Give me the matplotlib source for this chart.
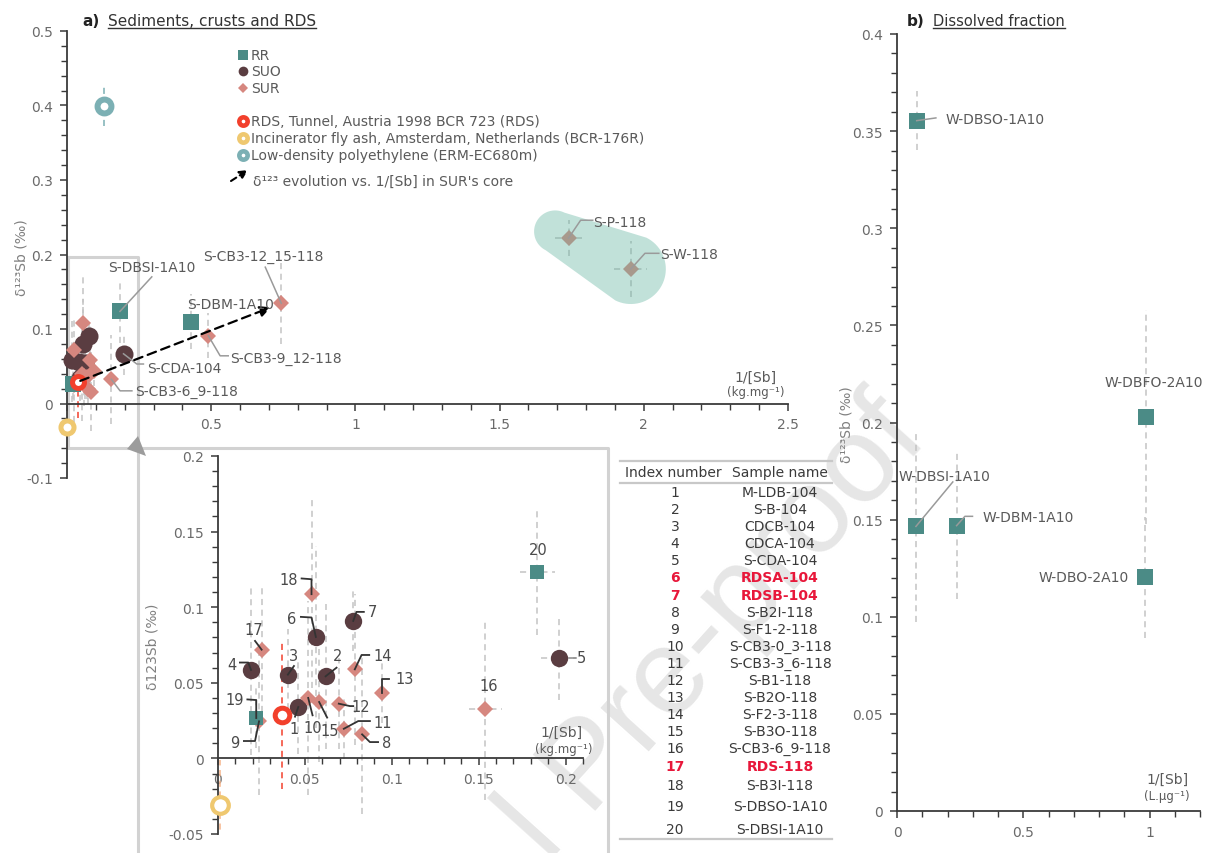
import numpy as np
import matplotlib.pyplot as plt
from matplotlib.lines import Line2D
from matplotlib.patches import Polygon
from matplotlib.ticker import MultipleLocator, FuncFormatter

plt.rcParams["font.family"] = ["DejaVu Sans"]

# ---------------------------------------------------------------- data
# samples of the zoomed inset (index number -> sample name)
index_no = list(range(1, 21))
sample_names = ["M-LDB-104", "S-B-104", "CDCB-104", "CDCA-104", "S-CDA-104",
                "RDSA-104", "RDSB-104", "S-B2I-118", "S-F1-2-118", "S-CB3-0_3-118",
                "S-CB3-3_6-118", "S-B1-118", "S-B2O-118", "S-F2-3-118", "S-B3O-118",
                "S-CB3-6_9-118", "RDS-118", "S-B3I-118", "S-DBSO-1A10", "S-DBSI-1A10"]
sample_group = ["SUO"] * 7 + ["SUR"] * 11 + ["RR"] * 2
inv_sb = [0.0462, 0.0619, 0.0402, 0.0190, 0.1960, 0.0563, 0.0778, 0.0829, 0.0236, 0.0519,
          0.0724, 0.0695, 0.0944, 0.0787, 0.0582, 0.1538, 0.0251, 0.0538, 0.0220, 0.1837]
d123 = [0.0340, 0.0543, 0.0554, 0.0585, 0.0667, 0.0803, 0.0909, 0.0159, 0.0245, 0.0400,
        0.0196, 0.0362, 0.0435, 0.0589, 0.0373, 0.0325, 0.0719, 0.1086, 0.0267, 0.1236]
d123_err = [0.031, 0.048, 0.030, 0.056, 0.028, 0.060, 0.020, 0.053, 0.049, 0.064,
            0.020, 0.030, 0.020, 0.050, 0.040, 0.060, 0.041, 0.062, 0.020, 0.042]
inv_sb_err = [0, 0, 0, 0, 0.010, 0, 0, 0, 0, 0,
              0, 0, 0, 0, 0, 0.0095, 0, 0, 0, 0.010]

# samples outside the inset (main panel only)
extra_names = ["S-DBM-1A10", "S-CB3-9_12-118", "S-CB3-12_15-118", "S-P-118", "S-W-118"]
extra_group = ["RR", "SUR", "SUR", "SUR", "SUR"]
extra_x = [0.430, 0.490, 0.743, 1.739, 1.955]
extra_y = [0.110, 0.091, 0.1345, 0.222, 0.1805]
extra_yerr = [0.037, 0.030, 0.055, 0.024, 0.038]
extra_xerr = [0, 0, 0, 0.048, 0.057]
blob_members = ["S-P-118", "S-W-118"]

# reference materials
ref_names = ["RDS, Tunnel, Austria 1998 BCR 723 (RDS)",
             "Incinerator fly ash, Amsterdam, Netherlands (BCR-176R)",
             "Low-density polyethylene (ERM-EC680m)"]
ref_x = [0.037, 0.001, 0.130]
ref_y = [0.029, -0.031, 0.400]
ref_yerr = [0.049, 0.030, 0.028]

# dissolved fraction
diss_names = ["W-DBSO-1A10", "W-DBSI-1A10", "W-DBM-1A10", "W-DBO-2A10", "W-DBFO-2A10"]
diss_x = [0.078, 0.075, 0.236, 0.983, 0.987]
diss_y = [0.3554, 0.1465, 0.1469, 0.1203, 0.2027]
diss_yerr = [0.015, 0.049, 0.038, 0.031, 0.055]

# ---------------------------------------------------------------- style
col = {"RR": "#4b8b86", "SUO": "#5a3d41", "SUR": "#d6877f"}
mk = {"RR": "s", "SUO": "o", "SUR": "D"}
ref_col = ["#f2402c", "#efc870", "#7cb0b4"]
ref_errcol = ["#f2402c", "#f5b48a", "#7cb0b4"]
txt_grey = "#5a5a5a"
err_grey = "#c4c4c4"

W, H = 1206, 854
fig = plt.figure(figsize=(W / 100, H / 100), dpi=100)


def fx(px):
    return px / W


def fy(py):
    return 1 - py / H


def fmt(v, pos):
    return "0" if abs(v) < 1e-9 else f"{round(v, 3):g}"


def style(ax, xlim, ylim, xmaj, xmin, ymaj, ymin):
    ax.set_facecolor("none")
    ax.set_xlim(*xlim)
    ax.set_ylim(*ylim)
    for s in ("top", "right"):
        ax.spines[s].set_visible(False)
    ax.spines["bottom"].set_position(("data", 0))
    for s in ("left", "bottom"):
        ax.spines[s].set_color("#3a3a3a")
        ax.spines[s].set_linewidth(1.3)
    ax.xaxis.set_major_locator(MultipleLocator(xmaj))
    ax.xaxis.set_minor_locator(MultipleLocator(xmin))
    ax.yaxis.set_major_locator(MultipleLocator(ymaj))
    ax.yaxis.set_minor_locator(MultipleLocator(ymin))
    ax.xaxis.set_major_formatter(FuncFormatter(fmt))
    ax.yaxis.set_major_formatter(FuncFormatter(fmt))
    ax.tick_params(which="both", direction="out", color="#3a3a3a", labelcolor="#6a6a6a",
                   labelsize=10)
    ax.tick_params(which="major", length=5, width=1.1, pad=5)
    ax.tick_params(which="minor", length=4, width=1.0)


def err_bars(ax, x, y, xe, ye, color=err_grey, z=1):
    eb = ax.errorbar(x, y, xerr=xe, yerr=ye, fmt="none", ecolor=color, elinewidth=1.1, zorder=z)
    for lc in eb[2]:
        lc.set_linestyle((0, (4, 3)))


def points(ax, xs, ys, groups, sizes, z=3):
    for g in ("SUO", "SUR", "RR"):
        sel = [i for i, gg in enumerate(groups) if gg == g]
        ax.plot([xs[i] for i in sel], [ys[i] for i in sel], ls="none", marker=mk[g],
                ms=sizes[g], color=col[g], mew=0, zorder=z, clip_on=False)


def leaders(ax, anchor, path, color, lw=1.1, z=5):
    xs = [anchor[0]] + [p[0] for p in path]
    ys = [anchor[1]] + [p[1] for p in path]
    ax.plot(xs, ys, color=color, lw=lw, zorder=z, clip_on=False)


# ---------------------------------------------------------------- axes
ax_a = fig.add_axes([fx(67), fy(479), (788 - 67) / W, (479 - 32) / H])
ax_in = fig.add_axes([fx(218), fy(835), (583 - 218) / W, (835 - 457) / H])
ax_b = fig.add_axes([fx(897), fy(812), (1200 - 897) / W, (812 - 35) / H])

style(ax_a, (0, 2.5), (-0.1, 0.5), 0.5, 0.1, 0.1, 0.02)
style(ax_in, (0, 0.21), (-0.05, 0.2), 0.05, 0.01, 0.05, 0.01)
style(ax_b, (0, 1.2), (0, 0.4), 0.5, 0.1, 0.05, 0.01)

# ---------------------------------------------------------------- panel a (main)
all_x = inv_sb + extra_x
all_y = d123 + extra_y
all_g = sample_group + extra_group
pos = dict(zip(sample_names + extra_names, zip(all_x, all_y)))

err_bars(ax_a, all_x, all_y, inv_sb_err + extra_xerr, d123_err + extra_yerr)
for i in range(3):
    err_bars(ax_a, [ref_x[i]], [ref_y[i]], None, [ref_yerr[i]], color=ref_errcol[i], z=2)
points(ax_a, all_x, all_y, all_g, {"RR": 12, "SUO": 13, "SUR": 8.6})
ax_a.plot(ref_x[0], ref_y[0], "o", ms=8.6, mew=3.6, mec=ref_col[0], mfc="white", zorder=6, clip_on=False)
ax_a.plot(ref_x[1], ref_y[1], "o", ms=9.4, mew=3.6, mec=ref_col[1], mfc="white", zorder=6, clip_on=False)
ax_a.plot(ref_x[2], ref_y[2], "o", ms=10, mew=4.3, mec=ref_col[2], mfc="white", zorder=6, clip_on=False)

# shaded field around the two surface samples (rounded hull, in pixel space)
fig.canvas.draw()
P = ax_a.transData.transform([pos[n] for n in blob_members])
d = (P[1] - P[0]) / np.hypot(*(P[1] - P[0]))
c0, c1 = P[0] - 15 * d, P[1]
a_n = np.arctan2(d[0], -d[1])
t1 = np.linspace(a_n, a_n - np.pi, 40)
t2 = np.linspace(a_n - np.pi, a_n - 2 * np.pi, 40)
ring = np.vstack([c1 + 35 * np.c_[np.cos(t1), np.sin(t1)],
                  c0 + 21 * np.c_[np.cos(t2), np.sin(t2)]])
ax_a.add_patch(Polygon(ax_a.transData.inverted().transform(ring), closed=True,
                       fc="#64b5a1", ec="none", alpha=0.4, zorder=4))

# trend arrow in SUR core
ax_a.annotate("", xy=pos["S-CB3-12_15-118"], xytext=(ref_x[0], ref_y[0]),
              arrowprops=dict(arrowstyle="-|>", color="black", lw=1.6, ls=(0, (4, 2.5)),
                              mutation_scale=16, shrinkA=2, shrinkB=8), zorder=7)

main_labels = {
    "S-DBSI-1A10": ((0.294, 0.183), "center", [(0.294, 0.170)]),
    "S-DBM-1A10": ((0.566, 0.134), "center", []),
    "S-CB3-12_15-118": ((0.682, 0.1976), "center", [(0.6875, 0.183)]),
    "S-CB3-9_12-118": ((0.566, 0.061), "left", [(0.531, 0.064), (0.559, 0.064)]),
    "S-CDA-104": ((0.278, 0.0477), "left", [(0.242, 0.053), (0.265, 0.053)]),
    "S-CB3-6_9-118": ((0.236, 0.0172), "left", [(0.184, 0.017), (0.225, 0.017)]),
    "S-P-118": ((1.826, 0.244), "left", [(1.781, 0.246), (1.823, 0.246)]),
    "S-W-118": ((2.056, 0.200), "left", [(2.004, 0.2016), (2.052, 0.2016)]),
}
for name, (tp, ha, path) in main_labels.items():
    ax_a.text(tp[0], tp[1], name, ha=ha, va="center", fontsize=10, color=txt_grey, zorder=8)
    if path:
        leaders(ax_a, pos[name], path, "#9a9a9a", lw=1.1)

fig.text(fx(756), fy(378), "1/[Sb]", ha="center", va="center", fontsize=10, color=txt_grey)
fig.text(fx(756), fy(393), "(kg.mg⁻¹)", ha="center", va="center", fontsize=8.5, color=txt_grey)
fig.text(fx(22), fy(258), "δ¹²³Sb (‰)", rotation=90, ha="center", va="center", fontsize=10, color="#808080")

# legend of panel a
leg_y = [56, 72, 89]
for g, yy in zip(("RR", "SUO", "SUR"), leg_y):
    fig.add_artist(Line2D([fx(243)], [fy(yy)], marker=mk[g], color=col[g], mew=0,
                          ms={"RR": 7, "SUO": 7, "SUR": 5.3}[g]))
    fig.text(fx(251), fy(yy), g, ha="left", va="center", fontsize=10, color=txt_grey)
for i, yy in enumerate([122, 139, 156]):
    fig.add_artist(Line2D([fx(243)], [fy(yy)], marker="o", ms=6, mew=3.3, mec=ref_col[i], mfc="white"))
    fig.text(fx(251), fy(yy), ref_names[i], ha="left", va="center", fontsize=10, color=txt_grey)
ax_a.annotate("", xy=(fx(248), fy(171)), xytext=(fx(231), fy(182)), xycoords="figure fraction",
              textcoords="figure fraction",
              arrowprops=dict(arrowstyle="-|>", color="black", lw=1.5, ls=(0, (3, 2)),
                              mutation_scale=12, shrinkA=0, shrinkB=0))
fig.text(fx(253), fy(182), "δ¹²³ evolution vs. 1/[Sb] in SUR's core", ha="left", va="center",
         fontsize=10, color=txt_grey)

# ---------------------------------------------------------------- inset
err_bars(ax_in, inv_sb, d123, inv_sb_err, d123_err)
err_bars(ax_in, [ref_x[0]], [ref_y[0]], None, [ref_yerr[0]], color=ref_errcol[0], z=2)
err_bars(ax_in, [ref_x[1]], [ref_y[1]], None, [ref_yerr[1]], color=ref_errcol[1], z=2)
points(ax_in, inv_sb, d123, sample_group, {"RR": 10, "SUO": 12.5, "SUR": 8.6})
ax_in.plot(ref_x[0], ref_y[0], "o", ms=10.5, mew=3.6, mec=ref_col[0], mfc="white", zorder=6, clip_on=False)
ax_in.plot(ref_x[1], ref_y[1], "o", ms=12, mew=3.0, mec=ref_col[1], mfc="white", zorder=6, clip_on=False)

# index labels: text position, leader path, leader attached to the point
inset_labels = {
    1: ((0.0437, 0.0197), [(0.0443, 0.0276)], True),
    2: ((0.0686, 0.0682), [(0.0682, 0.0600)], True),
    3: ((0.0437, 0.0682), [(0.0437, 0.0611)], True),
    4: ((0.0082, 0.0618), [(0.0174, 0.0634), (0.0126, 0.0634)], True),
    5: ((0.2090, 0.0667), [(0.2019, 0.0667), (0.2061, 0.0667)], False),
    6: ((0.0423, 0.0927), [(0.0538, 0.0932), (0.0477, 0.0936)], True),
    7: ((0.0887, 0.0969), [(0.0797, 0.0969), (0.0839, 0.0969)], True),
    8: ((0.0970, 0.0104), [(0.0874, 0.0108), (0.0921, 0.0108)], True),
    9: ((0.0094, 0.0108), [(0.0213, 0.0115), (0.0149, 0.0115)], True),
    10: ((0.0543, 0.0203), [(0.0544, 0.0285)], True),
    11: ((0.0946, 0.0236), [(0.0807, 0.0247), (0.0874, 0.0247)], True),
    12: ((0.0820, 0.0340), [(0.0759, 0.0346), (0.0778, 0.0346)], True),
    13: ((0.1071, 0.0528), [(0.0944, 0.0528), (0.0985, 0.0528)], True),
    14: ((0.0950, 0.0678), [(0.0826, 0.0684), (0.0870, 0.0684)], True),
    15: ((0.0645, 0.0185), [(0.0628, 0.0270)], True),
    16: ((0.1560, 0.0479), [], True),
    17: ((0.0203, 0.0854), [(0.0213, 0.0777)], True),
    18: ((0.0404, 0.1180), [(0.0538, 0.1185), (0.0481, 0.1190)], True),
    19: ((0.0094, 0.0390), [(0.0220, 0.0386), (0.0169, 0.0390)], True),
    20: ((0.1845, 0.1384), [], True),
}
for k, (tp, path, attached) in inset_labels.items():
    i = index_no.index(k)
    ax_in.text(tp[0], tp[1], str(k), ha="center", va="center", fontsize=10.5, color="#4a4a4a", zorder=8)
    if path:
        if attached:
            leaders(ax_in, (inv_sb[i], d123[i]), path, "#333333", lw=1.3)
        else:
            leaders(ax_in, path[0], path[1:], "#8a8a8a", lw=1.1)

fig.text(fx(561), fy(733), "1/[Sb]", ha="center", va="center", fontsize=10, color=txt_grey)
fig.text(fx(564), fy(750), "(kg.mg⁻¹)", ha="center", va="center", fontsize=8.5, color=txt_grey)
fig.text(fx(152), fy(647), "δ123Sb (‰)", rotation=90, ha="center", va="center", fontsize=10, color="#808080")

# frame linking the zoom window and the inset
frame = dict(color="#d2d2d2", lw=2.2, zorder=-0.5)
fig.add_artist(Line2D([fx(68), fx(138), fx(138)], [fy(258), fy(258), fy(854)], **frame))
fig.add_artist(Line2D([fx(68), fx(68), fx(608), fx(608)], [fy(258), fy(449), fy(449), fy(854)], **frame))
fig.add_artist(Polygon([[fx(138), fy(437)], [fx(127), fy(450)], [fx(146), fy(457)]],
                       closed=True, fc="#9c9c9c", ec="none", transform=fig.transFigure))

# ---------------------------------------------------------------- table
row_y = [493 + 17.1 * i for i in range(17)] + [786, 807, 830]
tline = dict(color="#c8c8c8", lw=1.6)
for yy in (462, 484, 840):
    fig.add_artist(Line2D([fx(620), fx(832)], [fy(yy), fy(yy)], **tline))
fig.text(fx(673), fy(473), "Index number", ha="center", va="center", fontsize=10, color="#3a3a3a")
fig.text(fx(780), fy(473), "Sample name", ha="center", va="center", fontsize=10, color="#3a3a3a")
for k, name, yy in zip(index_no, sample_names, row_y):
    red = name.startswith("RDS")
    kw = dict(ha="center", va="center", fontsize=10,
              color="#e8173a" if red else "#3a3a3a", fontweight="bold" if red else "normal")
    fig.text(fx(675), fy(yy), str(k), **kw)
    fig.text(fx(780), fy(yy), name, **kw)

# ---------------------------------------------------------------- panel b
err_bars(ax_b, diss_x, diss_y, None, diss_yerr)
ax_b.plot(diss_x, diss_y, ls="none", marker="s", ms=12, color=col["RR"], mew=0, zorder=3, clip_on=False)
diss_labels = {
    "W-DBSO-1A10": ((0.194, 0.3562), "left", [(0.154, 0.3568)]),
    "W-DBSI-1A10": ((0.1887, 0.1726), "center", [(0.221, 0.1694)]),
    "W-DBM-1A10": ((0.340, 0.1512), "left", [(0.269, 0.1517), (0.299, 0.1517)]),
    "W-DBO-2A10": ((0.917, 0.1205), "right", []),
    "W-DBFO-2A10": ((1.016, 0.2208), "center", []),
}
for name, (tp, ha, path) in diss_labels.items():
    i = diss_names.index(name)
    ax_b.text(tp[0], tp[1], name, ha=ha, va="center", fontsize=10, color=txt_grey, zorder=8, clip_on=False)
    if path:
        leaders(ax_b, (diss_x[i], diss_y[i]), path, "#9a9a9a", lw=1.1)

fig.text(fx(1167), fy(780), "1/[Sb]", ha="center", va="center", fontsize=10, color=txt_grey)
fig.text(fx(1167), fy(797), "(L.µg⁻¹)", ha="center", va="center", fontsize=8.5, color=txt_grey)
fig.text(fx(847), fy(425), "δ¹²³Sb (‰)", rotation=90, ha="center", va="center", fontsize=10, color="#808080")

# ---------------------------------------------------------------- titles
fig.text(fx(82), fy(22), "a)", ha="left", va="center", fontsize=11, fontweight="bold", color="#222222")
t_a = fig.text(fx(108), fy(22), "Sediments, crusts and RDS", ha="left", va="center", fontsize=11, color="#333333")
fig.text(fx(907), fy(22), "b)", ha="left", va="center", fontsize=11, fontweight="bold", color="#222222")
t_b = fig.text(fx(933), fy(22), "Dissolved fraction", ha="left", va="center", fontsize=10.5, color="#333333")

# watermark (only its visible part)
fig.text(fx(906), fy(418), "l Pre-proof", rotation=48, rotation_mode="anchor", ha="right",
         va="center", fontsize=88, color="#e6e6e6", family="Liberation Sans", zorder=-1)

fig.canvas.draw()
rend = fig.canvas.get_renderer()
for t in (t_a, t_b):
    bb = t.get_window_extent(rend)
    fig.add_artist(Line2D([bb.x0 / W, bb.x1 / W], [(bb.y0 + 1) / H] * 2, color="#333333", lw=1))

fig.savefig("out.png", dpi=100)
